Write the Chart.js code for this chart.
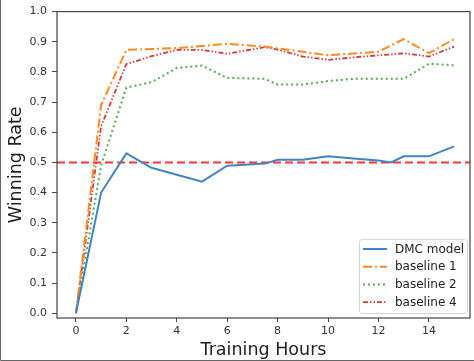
<!DOCTYPE html>
<html>
<head>
<meta charset="utf-8">
<script src="https://cdn.jsdelivr.net/npm/chart.js@4.4.0/dist/chart.umd.min.js"></script>
<style>
  html, body { margin: 0; padding: 0; background: #fff; }
  #wrap { width: 474px; height: 361px; }
</style>
</head>
<body>
<div id="wrap"><canvas id="grafica" width="474" height="361"></canvas></div>
<script>
// datos
const horas = [0, 1, 2, 3, 4, 5, 6, 7.5, 8, 9, 10, 11, 12, 12.5, 13, 14, 15];
const dmcModel  = [0, 0.40, 0.53, 0.482, 0.459, 0.436, 0.489, 0.496, 0.509, 0.509, 0.52, 0.513, 0.506, 0.50, 0.52, 0.52, 0.553];
const baseline1 = [0, 0.69, 0.873, 0.876, 0.879, 0.886, 0.893, 0.884, 0.878, 0.867, 0.855, 0.861, 0.867, 0.888, 0.909, 0.862, 0.909];
const baseline2 = [0, 0.49, 0.748, 0.766, 0.813, 0.821, 0.78, 0.777, 0.758, 0.758, 0.77, 0.777, 0.777, 0.777, 0.777, 0.827, 0.822];
const baseline4 = [0, 0.62, 0.826, 0.852, 0.873, 0.873, 0.86, 0.882, 0.874, 0.851, 0.84, 0.848, 0.855, 0.858, 0.862, 0.851, 0.884];
const referencia = 0.5;
const xTicks = [0, 2, 4, 6, 8, 10, 12, 14];
const yTicks = [0.0, 0.1, 0.2, 0.3, 0.4, 0.5, 0.6, 0.7, 0.8, 0.9, 1.0];

const X_MIN = -0.75, X_MAX = 15.63;
const fuente = "'DejaVu Sans', sans-serif";

function puntos(serie) {
    return horas.map((h, i) => ({ x: h, y: serie[i] }));
}

// marco de los ejes + leyenda dentro del area
const marcoYLeyenda = {
    id: 'marcoYLeyenda',
    afterDraw(chart) {
        const ctx = chart.ctx;
        const a = chart.chartArea;
        ctx.save();
        ctx.strokeStyle = '#444';
        ctx.lineWidth = 1.2;
        ctx.setLineDash([]);
        ctx.strokeRect(a.left, a.top, a.right - a.left, a.bottom - a.top);

        // borde de la captura
        ctx.strokeStyle = '#666';
        ctx.lineWidth = 1;
        ctx.beginPath();
        ctx.moveTo(0.5, 0); ctx.lineTo(0.5, 360.5); ctx.lineTo(474, 360.5);
        ctx.stroke();

        // leyenda
        const items = chart.data.datasets.filter(d => d.label);
        const bx = 359, by = 239, bw = 108, bh = 74;
        ctx.fillStyle = 'rgba(255,255,255,0.85)';
        ctx.strokeStyle = '#d5d5d5';
        ctx.lineWidth = 1;
        ctx.beginPath();
        ctx.roundRect(bx + 0.5, by + 0.5, bw, bh, 3);
        ctx.fill();
        ctx.stroke();
        ctx.font = '12px ' + fuente;
        ctx.textBaseline = 'middle';
        items.forEach((d, i) => {
            const y = by + 10 + i * 17.7;
            ctx.strokeStyle = d.borderColor;
            ctx.lineWidth = d.borderWidth;
            ctx.setLineDash(d.borderDash || []);
            ctx.beginPath();
            ctx.moveTo(363, y);
            ctx.lineTo(387, y);
            ctx.stroke();
            ctx.setLineDash([]);
            ctx.fillStyle = '#222';
            ctx.fillText(d.label, 395, y + 0.5);
        });
        ctx.restore();
    }
};

new Chart(document.getElementById('grafica').getContext('2d'), {
    type: 'line',
    data: {
        datasets: [
            { label: 'DMC model', data: puntos(dmcModel), borderColor: '#3f85c6', borderWidth: 2 },
            { label: 'baseline 1', data: puntos(baseline1), borderColor: '#ff8a1f', borderWidth: 2, borderDash: [9, 3, 2, 3] },
            { label: 'baseline 2', data: puntos(baseline2), borderColor: '#4fb04f', borderWidth: 2, borderDash: [2, 3] },
            { label: 'baseline 4', data: puntos(baseline4), borderColor: '#d9383a', borderWidth: 1.8, borderDash: [5, 2, 1.5, 2, 1.5, 2] },
            { data: [{ x: X_MIN, y: referencia }, { x: X_MAX, y: referencia }], borderColor: '#ff3434', borderWidth: 2, borderDash: [8, 4] }
        ]
    },
    options: {
        responsive: false,
        animation: false,
        layout: { padding: { left: 0, right: 4, top: 8, bottom: 0 } },
        elements: {
            point: { radius: 0 },
            line: { tension: 0, fill: false }
        },
        scales: {
            x: {
                type: 'linear',
                min: X_MIN,
                max: X_MAX,
                afterFit: s => { s.height = 43; },
                afterBuildTicks: s => { s.ticks = xTicks.map(v => ({ value: v })); },
                ticks: { font: { family: fuente, size: 11 }, color: '#333', padding: 3, maxRotation: 0 },
                grid: { drawOnChartArea: false, drawTicks: true, tickLength: 4, color: '#444' },
                border: { display: false },
                title: { display: true, text: 'Training Hours', font: { family: fuente, size: 17.5 }, color: '#222', padding: { top: 0, bottom: 0.5 } }
            },
            y: {
                min: -0.016,
                max: 1.0,
                afterFit: s => { s.width = 57; },
                afterBuildTicks: s => { s.ticks = yTicks.map(v => ({ value: v })); },
                ticks: { font: { family: fuente, size: 11 }, color: '#333', padding: 5, callback: v => v.toFixed(1) },
                grid: { drawOnChartArea: false, drawTicks: true, tickLength: 5, color: '#444' },
                border: { display: false },
                title: { display: true, text: 'Winning Rate', font: { family: fuente, size: 17.5 }, color: '#222', padding: { top: 6, bottom: 0 } }
            }
        },
        plugins: {
            legend: { display: false },
            tooltip: { enabled: false }
        }
    },
    plugins: [marcoYLeyenda]
});
</script>
</body>
</html>
